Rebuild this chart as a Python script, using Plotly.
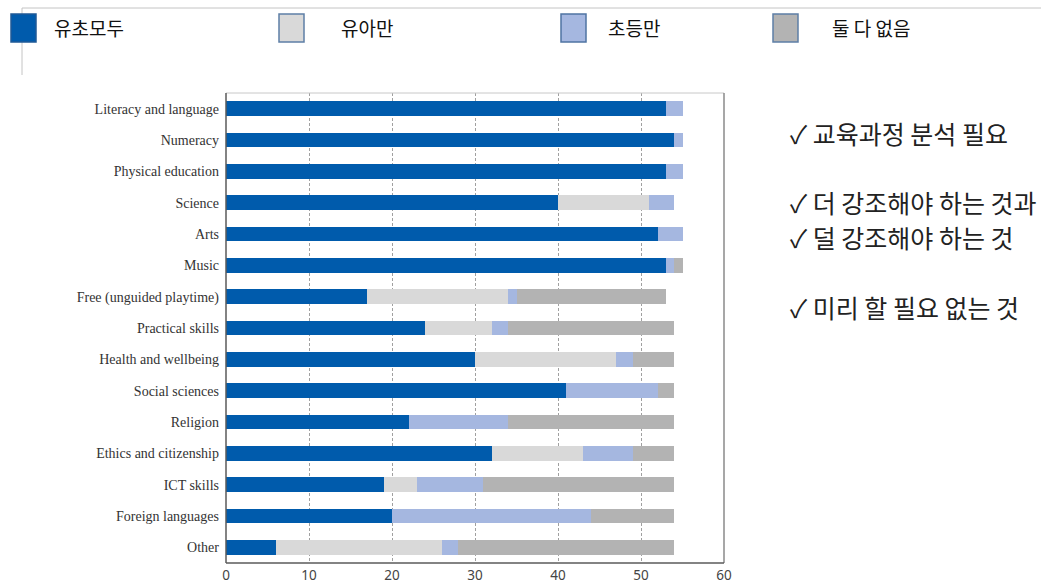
import plotly.graph_objects as go

categories = ["Literacy and language", "Numeracy", "Physical education", "Science", "Arts",
              "Music", "Free (unguided playtime)", "Practical skills", "Health and wellbeing",
              "Social sciences", "Religion", "Ethics and citizenship", "ICT skills",
              "Foreign languages", "Other"]
both = [53, 54, 53, 40, 52, 53, 17, 24, 30, 41, 22, 32, 19, 20, 6]
preschool_only = [0, 0, 0, 11, 0, 0, 17, 8, 17, 0, 0, 11, 4, 0, 20]
primary_only = [2, 1, 2, 3, 3, 1, 1, 2, 2, 11, 12, 6, 8, 24, 2]
neither = [0, 0, 0, 0, 0, 1, 18, 20, 5, 2, 20, 5, 23, 10, 26]
series_names = ["유초모두", "유아만", "초등만", "둘 다 없음"]
x_ticks = [0, 10, 20, 30, 40, 50, 60]
notes = ["✓ 교육과정 분석 필요", "✓ 더 강조해야 하는 것과", "✓ 덜 강조해야 하는 것", "✓ 미리 할 필요 없는 것"]

colors = ["#005BAC", "#D9D9D9", "#A5B7E0", "#B3B3B3"]
series = [both, preschool_only, primary_only, neither]

W, H = 1041, 586
L, R, T, B = 226, 724, 93, 563


def px(x):
    return (x - L) / (R - L)


def py(y):
    return (B - y) / (B - T)


fig = go.Figure()
for name, vals, c in zip(series_names, series, colors):
    fig.add_trace(go.Bar(y=categories, x=vals, name=name, orientation="h",
                         marker=dict(color=c, line=dict(width=0)), showlegend=False))

shapes = []
# plot frame
shapes.append(dict(type="line", xref="paper", yref="paper", x0=0, x1=1, y0=1, y1=1,
                   line=dict(color="#C8C8C8", width=1)))
shapes.append(dict(type="line", xref="paper", yref="paper", x0=1, x1=1, y0=0, y1=1,
                   line=dict(color="#8A8A8A", width=1.5)))
shapes.append(dict(type="line", xref="paper", yref="paper", x0=0, x1=0, y0=0, y1=1,
                   line=dict(color="#5A5A5A", width=1.5)))
shapes.append(dict(type="line", xref="paper", yref="paper", x0=0, x1=1, y0=0, y1=0,
                   line=dict(color="#5A5A5A", width=1.5)))
# slide border lines at top
shapes.append(dict(type="line", xref="paper", yref="paper", x0=px(22), x1=px(1041), y0=py(8), y1=py(8),
                   line=dict(color="#C4C4C4", width=1)))
shapes.append(dict(type="line", xref="paper", yref="paper", x0=px(22), x1=px(22), y0=py(8), y1=py(75),
                   line=dict(color="#C4C4C4", width=1)))

annotations = []
legend_box_x = [11, 279, 561, 773]
legend_text_x = [52, 339, 606, 830]
border_cols = ["#1F5A96", "#5E7FA6", "#4F74A3", "#5E7FA6"]
for bx, tx, c, bc, name in zip(legend_box_x, legend_text_x, colors, border_cols, series_names):
    shapes.append(dict(type="rect", xref="paper", yref="paper", x0=px(bx), x1=px(bx + 25),
                       y0=py(42), y1=py(14), fillcolor=c, line=dict(color=bc, width=1.5), layer="above"))
    annotations.append(dict(xref="paper", yref="paper", x=px(tx), y=py(28), text=name,
                            showarrow=False, xanchor="left", yanchor="middle",
                            font=dict(family="Noto Sans CJK KR", size=19, color="#111111")))

note_y = [133, 202, 237, 307]
for t, yy in zip(notes, note_y):
    annotations.append(dict(xref="paper", yref="paper", x=px(788), y=py(yy), text=t,
                            showarrow=False, xanchor="left", yanchor="middle",
                            font=dict(family="Noto Sans CJK KR", size=25, color="#222222")))

fig.update_layout(
    width=W, height=H,
    margin=dict(l=L, r=W - R, t=T, b=H - B, pad=0),
    barmode="stack", bargap=0.53,
    plot_bgcolor="white", paper_bgcolor="white",
    shapes=shapes, annotations=annotations,
    xaxis=dict(range=[0, 60], tickvals=x_ticks, showgrid=True, gridcolor="#A0A0A0",
               griddash="3px,2px", gridwidth=1, zeroline=False, showline=False, ticks="",
               automargin=False,
               tickfont=dict(family="Noto Sans", size=13.5, color="#444444"), ticklabelstandoff=2),
    yaxis=dict(autorange="reversed", showgrid=False, showline=False, ticks="",
               automargin=False,
               tickfont=dict(family="Liberation Serif", size=14, color="#333333"),
               ticklabelstandoff=6),
)

fig.write_html("out.html", config={"displayModeBar": False},
               post_script="document.body.style.margin='0';document.body.style.overflow='hidden';")
